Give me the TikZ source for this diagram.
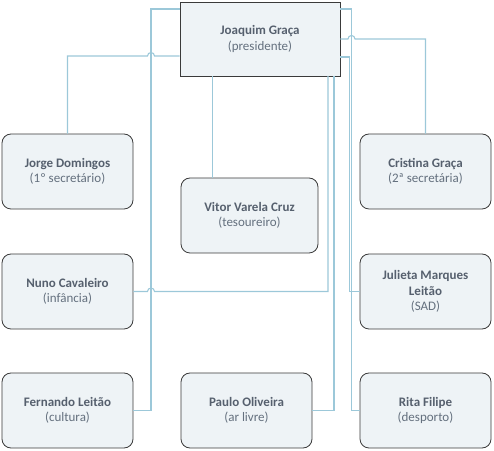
\documentclass[tikz,border=0pt]{standalone}
\usepackage{fontspec}
\setmainfont{Carlito}
\definecolor{lineblue}{HTML}{9CC8D9}
\definecolor{boxfill}{HTML}{EEF3F6}
\definecolor{boxdraw}{HTML}{3A3A3A}
\definecolor{nametext}{HTML}{56606E}
\definecolor{roletext}{HTML}{64707E}
\newcommand{\pname}[2]{\bfseries #1\\\color{roletext}\mdseries #2}
\begin{document}
\begin{tikzpicture}[x=1bp,y=1bp,
  person/.style={draw=boxdraw,fill=boxfill,line width=0.8bp,rounded corners=9bp,
    minimum width=131bp,minimum height=75bp,align=center,inner sep=0pt,
    text=nametext,font=\fontsize{13bp}{15.5bp}\selectfont},
  headbox/.style={draw=boxdraw,fill=boxfill,line width=0.9bp,
    minimum width=160bp,minimum height=74bp,align=center,inner sep=0pt,
    text=nametext,font=\fontsize{13bp}{15.5bp}\selectfont},
  link/.style={draw=lineblue,line width=1.1bp}]
\useasboundingbox (0,0) rectangle (494,451);

\coordinate (h1) at (180,395);
\coordinate (h2) at (180,442);
\coordinate (h3) at (340,412);
\coordinate (h4) at (340,394);
\coordinate (h5) at (340,442);

\node[headbox] (pres) at (260,412) {\pname{Joaquim Graça}{(presidente)}};
\node[person] (jorge) at (67.5,279.5) {\pname{Jorge Domingos}{(1º secretário)}};
\node[person] (cristina) at (425.5,279.5) {\pname{Cristina Graça}{(2ª secretária)}};
\node[person,minimum width=137bp] (vitor) at (249.5,235.5) {\pname{Vitor Varela Cruz}{(tesoureiro)}};
\node[person] (nuno) at (67.5,159.5) {\pname{Nuno Cavaleiro}{(infância)}};
\node[person] (julieta) at (425.5,159.5) {\pname{Julieta Marques\\\bfseries Leitão}{(SAD)}};
\node[person] (fernando) at (67.5,40.5) {\pname{Fernando Leitão}{(cultura)}};
\node[person] (paulo) at (246.5,40.5) {\pname{Paulo Oliveira}{(ar livre)}};
\node[person] (rita) at (425.5,40.5) {\pname{Rita Filipe}{(desporto)}};

% Fernando
\draw[link] (pres.west |- h2) -- (151,442) -- (151,40.5) -- (fernando.east);
% Jorge (hop over x=151)
\draw[link] (pres.west |- h1) -- (154.5,395) arc (0:180:3.5) -- (67.5,395) -- (jorge.north);
% Nuno
\draw[link] (328,375) -- (328,159.5) -- (154.5,159.5) arc (0:180:3.5) -- (nuno.east);
% Paulo
\draw[link] (334,375) -- (334,40.5) -- (paulo.east);
% Vitor
\draw[link] (212.5,375) -- (212.5,273);
% Rita
\draw[link] (pres.east |- h5) -- (351.5,442) -- (351.5,40.5) -- (rita.west);
% Julieta
\draw[link] (pres.east |- h4) -- (349.5,394) -- (349.5,159.5) -- (julieta.west);
% Cristina (hop over x=351.5)
\draw[link] (pres.east |- h3) -- (348,412) arc (180:0:3.5) -- (425.5,412) -- (cristina.north);
\end{tikzpicture}
\end{document}
